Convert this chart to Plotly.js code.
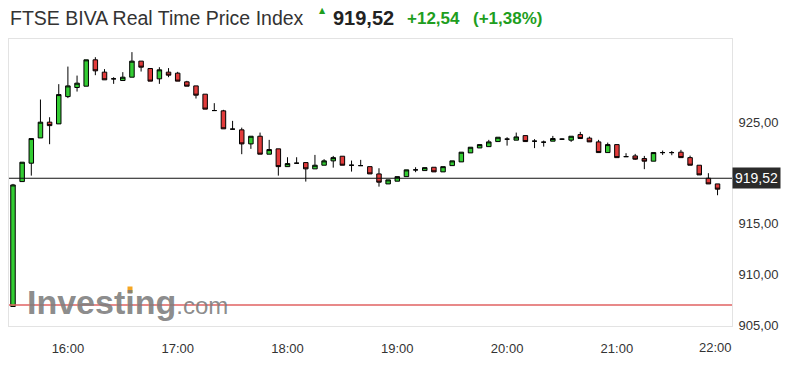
<!DOCTYPE html>
<html>
<head>
<meta charset="utf-8">
<script src="https://cdn.plot.ly/plotly-3.0.1.min.js"></script>
<style>
html,body{margin:0;padding:0;background:#fff;}
#chart{width:791px;height:369px;}
</style>
</head>
<body>
<div id="chart"></div>
<script>
// ---- data (5-minute candles) ----
const times = ["15:30","15:35","15:40","15:45","15:50","15:55","16:00","16:05","16:10","16:15","16:20","16:25",
"16:30","16:35","16:40","16:45","16:50","16:55","17:00","17:05","17:10","17:15","17:20","17:25",
"17:30","17:35","17:40","17:45","17:50","17:55","18:00","18:05","18:10","18:15","18:20","18:25",
"18:30","18:35","18:40","18:45","18:50","18:55","19:00","19:05","19:10","19:15","19:20","19:25",
"19:30","19:35","19:40","19:45","19:50","19:55","20:00","20:05","20:10","20:15","20:20","20:25",
"20:30","20:35","20:40","20:45","20:50","20:55","21:00","21:05","21:10","21:15","21:20","21:25",
"21:30","21:35","21:40","21:45","21:50","21:55"];
const openV = [906.83,919.19,921.01,923.51,925.07,924.90,927.60,928.50,928.63,931.24,930.02,929.36,
929.19,929.52,931.11,930.38,929.36,930.02,929.92,929.06,928.66,927.84,926.22,926.19,
924.38,924.31,922.92,923.68,921.90,922.43,920.67,921.01,921.07,920.45,920.81,921.24,
921.70,920.81,920.77,920.67,919.95,918.96,919.23,919.68,920.35,920.28,920.61,920.15,
920.77,921.14,922.03,922.52,922.65,923.15,923.39,923.29,923.74,923.19,923.09,923.19,
923.39,923.29,923.84,923.49,923.12,922.06,922.85,921.66,921.73,921.47,921.21,922.06,
922.06,922.10,921.56,920.81,919.52,918.96];
const highV = [918.96,921.11,923.45,927.31,925.56,928.83,930.57,929.68,931.24,931.50,930.32,929.52,
930.02,932.00,931.11,930.38,930.51,930.42,930.05,929.16,928.66,927.84,926.95,926.29,
925.20,924.53,923.68,924.04,923.32,922.43,921.60,921.60,921.07,921.83,921.41,921.73,
921.70,921.27,921.34,920.67,920.51,919.36,919.68,920.35,920.61,920.57,920.61,920.67,
921.24,922.10,922.59,922.85,923.32,923.58,923.58,924.04,923.74,923.39,923.25,923.71,
923.45,923.68,924.11,923.64,923.32,923.05,922.85,922.00,921.93,921.73,922.06,922.26,
922.22,922.33,921.76,920.81,920.02,918.96];
const lowV = [906.83,919.19,919.78,923.51,922.89,924.90,927.45,928.10,928.63,929.72,929.26,928.86,
929.19,929.52,930.08,929.13,928.86,929.52,929.13,928.63,927.41,926.36,926.22,924.41,
924.38,921.90,922.43,921.90,921.90,919.78,920.67,921.01,919.19,920.45,920.81,920.57,
920.81,920.18,920.77,919.95,918.69,918.96,919.23,919.68,920.12,920.28,920.15,920.15,
920.77,921.14,922.03,922.52,922.65,923.15,922.75,923.29,923.15,922.50,922.65,923.19,
923.33,923.12,923.45,923.12,922.06,922.06,921.56,921.66,921.34,920.42,921.21,921.83,
921.80,921.56,920.81,919.85,918.96,917.84];
const closeV = [918.86,921.11,923.45,925.07,924.73,927.80,928.66,928.93,931.24,930.15,929.26,929.36,
929.52,931.11,930.51,929.13,930.25,929.72,929.13,928.63,927.74,926.36,926.22,924.41,
924.38,922.92,923.68,921.90,922.36,920.67,920.97,921.01,920.45,920.81,921.24,921.56,
920.81,920.81,920.77,919.95,919.13,919.36,919.68,920.35,920.35,920.57,920.15,920.67,
921.24,922.10,922.59,922.85,923.12,923.58,923.39,923.61,923.15,923.19,923.09,923.45,
923.39,923.68,923.45,923.12,922.06,922.85,921.56,921.66,921.41,921.21,922.06,922.06,
922.06,921.56,920.81,919.85,918.96,918.44];
const lastPrice = 919.52;
const prevClose = 906.98;
const xTickLabels = ["16:00","17:00","18:00","19:00","20:00","21:00","22:00"];
const yTickVals = [905,910,915,920,925];
const titleText = "FTSE BIVA Real Time Price Index";
const priceText = "919,52";
const changeText = "+12,54";
const changePctText = "(+1,38%)";

const day = "2024-01-01 ";
const xs = times.map(t => day + t);
const FONT = "Liberation Sans, Arial, sans-serif";
const GREEN_TXT = "#1e9e1e";

const trace = {
  type: "candlestick",
  x: xs, open: openV, high: highV, low: lowV, close: closeV,
  increasing: {fillcolor: "#33cc33", line: {color: "#000000", width: 1}},
  decreasing: {fillcolor: "#e23b3b", line: {color: "#000000", width: 1}},
  whiskerwidth: 0,
  hoverinfo: "skip",
  showlegend: false
};

const px2paperX = p => (p - 9) / 723;
const px2paperY = p => (326 - p) / 287;

const layout = {
  width: 791, height: 369,
  margin: {l: 9, r: 59, t: 39, b: 43, pad: 0},
  paper_bgcolor: "#ffffff", plot_bgcolor: "#ffffff",
  separators: ",.",
  font: {family: FONT, size: 13, color: "#333333"},
  title: {
    text: titleText,
    font: {family: FONT, size: 19.5, color: "#333333"},
    x: 10 / 791, xanchor: "left", xref: "container",
    y: 1 - 18 / 369, yanchor: "middle", yref: "container"
  },
  xaxis: {
    type: "date",
    range: [day + "15:27:49", day + "22:02:54"],
    rangeslider: {visible: false},
    showgrid: false, zeroline: false,
    showline: true, mirror: true, linecolor: "#e3e3e3", linewidth: 1,
    tickvals: xTickLabels.slice(0, 6).map(t => day + t),
    ticktext: xTickLabels.slice(0, 6),
    ticks: "outside", ticklen: 10, tickcolor: "rgba(0,0,0,0)",
    tickfont: {family: FONT, size: 13, color: "#333333"},
    fixedrange: true
  },
  yaxis: {
    side: "right",
    range: [904.9, 933.3],
    tickvals: yTickVals,
    tickformat: ".2f",
    showgrid: false, zeroline: false,
    showline: true, mirror: true, linecolor: "#e3e3e3", linewidth: 1,
    ticks: "outside", ticklen: 3, tickcolor: "rgba(0,0,0,0)",
    tickfont: {family: FONT, size: 13, color: "#333333"},
    fixedrange: true
  },
  shapes: [
    {type: "line", xref: "paper", x0: 0, x1: 1, yref: "y", y0: prevClose, y1: prevClose,
     line: {color: "#e06262", width: 1.5}, layer: "above"},
    {type: "line", xref: "paper", x0: 0, x1: 1, yref: "y", y0: lastPrice, y1: lastPrice,
     line: {color: "#111111", width: 1}, layer: "above"},
    {type: "rect", xref: "paper", yref: "paper",
     x0: px2paperX(127.5), x1: px2paperX(132.5), y0: px2paperY(293), y1: px2paperY(286.5),
     fillcolor: "#f5a623", line: {width: 0}, layer: "above"}
  ],
  annotations: [
    {xref: "paper", yref: "paper", x: px2paperX(25), y: px2paperY(302), xanchor: "left", yanchor: "middle",
     text: "<b>Investing</b><span style='font-size:24px'>.com</span>", showarrow: false,
     font: {family: FONT, size: 34, color: "rgba(125,125,125,0.9)"}},
    {xref: "paper", yref: "y", x: 1, y: lastPrice, xanchor: "left", yanchor: "middle",
     text: priceText, showarrow: false, bgcolor: "#2b2b2b", borderpad: 2,
     font: {family: FONT, size: 14, color: "#ffffff"}},
    {xref: "paper", yref: "paper", x: px2paperX(715), y: 0, yshift: -21, xanchor: "center", yanchor: "middle",
     text: xTickLabels[6], showarrow: false, font: {family: FONT, size: 13, color: "#333333"}},
    {xref: "paper", yref: "paper", x: px2paperX(322), y: px2paperY(11), xanchor: "center", yanchor: "middle",
     text: "▲", showarrow: false, font: {family: "DejaVu Sans", size: 8, color: GREEN_TXT}},
    {xref: "paper", yref: "paper", x: px2paperX(331), y: px2paperY(18), xanchor: "left", yanchor: "middle",
     text: "<b>" + priceText + "</b>", showarrow: false, font: {family: FONT, size: 20, color: "#222222"}},
    {xref: "paper", yref: "paper", x: px2paperX(405), y: px2paperY(19), xanchor: "left", yanchor: "middle",
     text: "<b>" + changeText + "</b>", showarrow: false, font: {family: FONT, size: 17, color: GREEN_TXT}},
    {xref: "paper", yref: "paper", x: px2paperX(471), y: px2paperY(19), xanchor: "left", yanchor: "middle",
     text: "<b>" + changePctText + "</b>", showarrow: false, font: {family: FONT, size: 17, color: GREEN_TXT}}
  ]
};

Plotly.newPlot("chart", [trace], layout, {displayModeBar: false, staticPlot: true});
</script>
</body>
</html>
